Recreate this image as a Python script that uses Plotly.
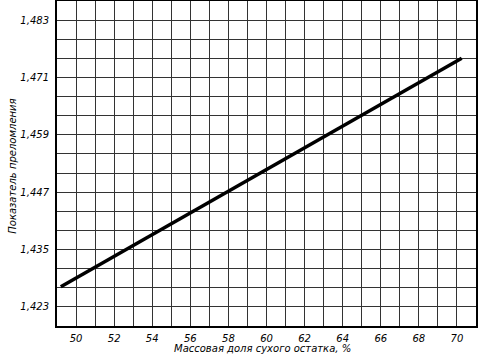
import plotly.graph_objects as go

# Data
mass_fraction = [49.2, 70.25]
refr_index = [1.4272, 1.4750]
x_tick_vals = [50, 52, 54, 56, 58, 60, 62, 64, 66, 68, 70]
y_tick_vals = [1.423, 1.435, 1.447, 1.459, 1.471, 1.483]
x_title = "Массовая доля сухого остатка, %"
y_title = "Показатель преломления"

fnt = dict(family="DejaVu Sans", size=10, color="black", style="italic")

fig = go.Figure()
fig.add_trace(go.Scatter(
    x=mass_fraction, y=refr_index, mode="lines",
    line=dict(color="black", width=3.5), showlegend=False,
))

fig.update_layout(
    width=494, height=361,
    margin=dict(l=57, r=18, t=1, b=35, autoexpand=False),
    paper_bgcolor="white", plot_bgcolor="white",
    separators=", ",
    font=fnt,
    xaxis=dict(
        range=[49, 71], tickvals=x_tick_vals, automargin=False,
        showgrid=True, gridcolor="#333333", gridwidth=1.3,
        minor=dict(dtick=1, tick0=49, showgrid=True, gridcolor="#333333", gridwidth=1.3),
        showline=True, linecolor="black", linewidth=2, mirror=True,
        ticks="", zeroline=False, tickfont=fnt, ticklabelstandoff=2,
    ),
    yaxis=dict(
        range=[1.419, 1.487], tickvals=y_tick_vals, tickformat=".3f", automargin=False,
        showgrid=True, gridcolor="#333333", gridwidth=1.3,
        minor=dict(dtick=0.004, tick0=1.419, showgrid=True, gridcolor="#333333", gridwidth=1.3),
        showline=True, linecolor="black", linewidth=2, mirror=True,
        ticks="", zeroline=False, tickfont=fnt, ticklabelstandoff=4,
    ),
    annotations=[
        dict(text=x_title, xref="paper", yref="paper", x=0.49, y=-0.068,
             xanchor="center", yanchor="middle", showarrow=False, font=fnt),
        dict(text=y_title, xref="paper", yref="paper", x=-0.105, y=0.49,
             xanchor="center", yanchor="middle", textangle=-90, showarrow=False, font=fnt),
    ],
)

fig.write_html("out.html", config={"displayModeBar": False},
               post_script="document.body.style.margin='0';")
